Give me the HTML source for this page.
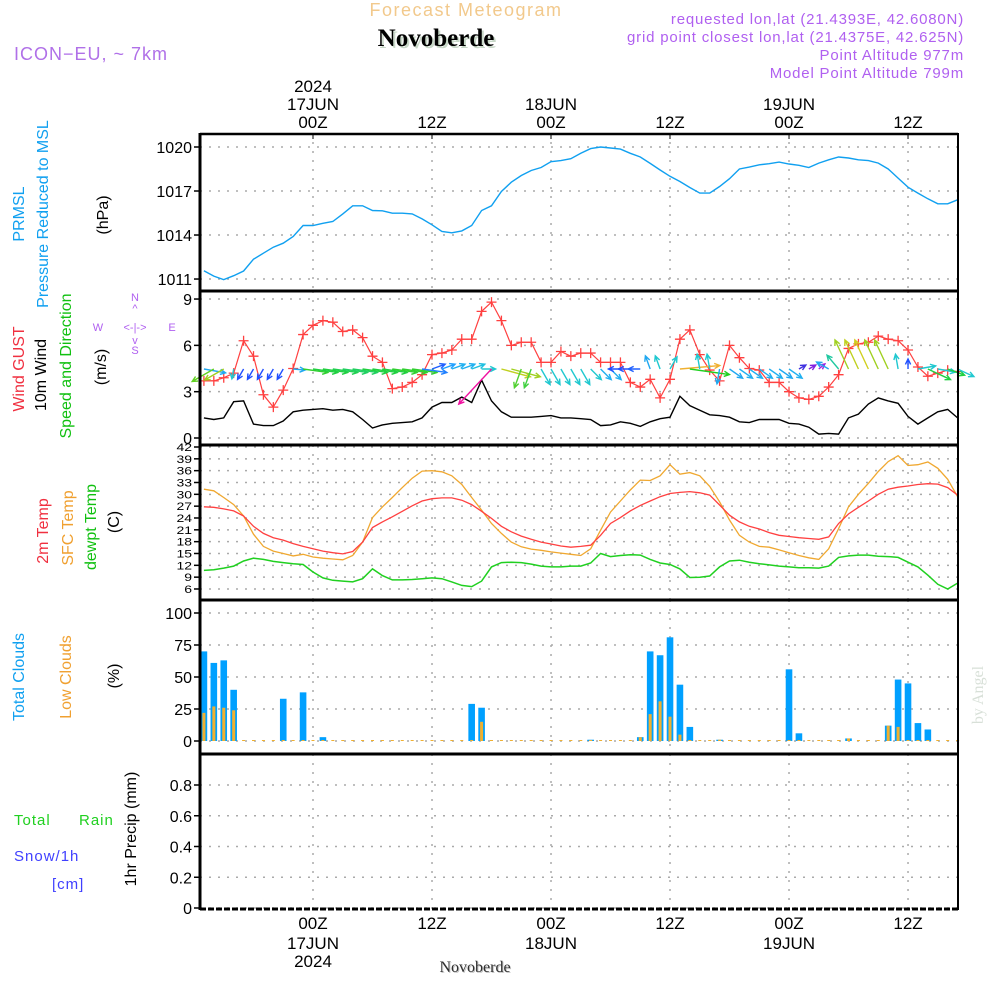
<!DOCTYPE html>
<html><head><meta charset="utf-8"><style>
html,body{margin:0;padding:0;background:#fff;}
svg{display:block;font-family:"Liberation Sans Narrow","Liberation Sans",sans-serif;}
</style></head><body>
<svg id="chart" width="1000" height="1000" viewBox="0 0 1000 1000" xmlns="http://www.w3.org/2000/svg">
<rect x="0" y="0" width="1000" height="1000" fill="#fff"/>
<g>
<text x="466" y="16" text-anchor="middle" font-size="18" fill="#f2c98c" letter-spacing="1.5" font-family="Liberation Sans, sans-serif">Forecast Meteogram</text>
<text x="438" y="48" text-anchor="middle" font-size="25" font-weight="bold" fill="#c8d8c8" font-family="Liberation Serif, serif">Novoberde</text>
<text x="436" y="46" text-anchor="middle" font-size="25" font-weight="bold" fill="#000" font-family="Liberation Serif, serif">Novoberde</text>
<text x="14" y="60" font-size="18" fill="#b070e8" letter-spacing="1" font-family="Liberation Sans, sans-serif">ICON−EU, ~ 7km</text>
<g font-size="15" fill="#b060f0" text-anchor="end" letter-spacing="0.8" font-family="Liberation Sans, sans-serif">
<text x="964" y="24">requested lon,lat (21.4393E, 42.6080N)</text>
<text x="964" y="42">grid point closest lon,lat (21.4375E, 42.625N)</text>
<text x="964" y="60">Point Altitude 977m</text>
<text x="964" y="78">Model Point Altitude 799m</text>
</g>
</g>
<g id="labels" font-size="16">
<text transform="translate(24,214) rotate(-90)" text-anchor="middle" fill="#10a0f0">PRMSL</text>
<text transform="translate(48,214) rotate(-90)" text-anchor="middle" fill="#10a0f0">Pressure Reduced to MSL</text>
<text transform="translate(108,215) rotate(-90)" text-anchor="middle" fill="#000">(hPa)</text>
<text transform="translate(24,369) rotate(-90)" text-anchor="middle" fill="#f03040">Wind GUST</text>
<text transform="translate(46,375) rotate(-90)" text-anchor="middle" fill="#000">10m Wind</text>
<text transform="translate(71,366) rotate(-90)" text-anchor="middle" fill="#10c010">Speed and Direction</text>
<text transform="translate(106,367) rotate(-90)" text-anchor="middle" fill="#000">(m/s)</text>
<g fill="#b060f0" font-size="11">
<text x="135" y="301" text-anchor="middle">N</text>
<text x="135" y="312" text-anchor="middle">^</text>
<text x="135" y="331" text-anchor="middle">&lt;-|-&gt;</text>
<text x="135" y="344" text-anchor="middle">v</text>
<text x="135" y="354" text-anchor="middle">S</text>
<text x="98" y="331" text-anchor="middle">W</text>
<text x="172" y="331" text-anchor="middle">E</text>
</g>
<text transform="translate(48,531) rotate(-90)" text-anchor="middle" fill="#f03040">2m Temp</text>
<text transform="translate(73,528) rotate(-90)" text-anchor="middle" fill="#f0a030">SFC Temp</text>
<text transform="translate(96,527) rotate(-90)" text-anchor="middle" fill="#10c010">dewpt Temp</text>
<text transform="translate(119,522) rotate(-90)" text-anchor="middle" fill="#000">(C)</text>
<text transform="translate(24,677) rotate(-90)" text-anchor="middle" fill="#10a0f0">Total Clouds</text>
<text transform="translate(71,677) rotate(-90)" text-anchor="middle" fill="#f0a030">Low Clouds</text>
<text transform="translate(119,676) rotate(-90)" text-anchor="middle" fill="#000">(%)</text>
<text transform="translate(136,829) rotate(-90)" text-anchor="middle" fill="#000">1hr Precip (mm)</text>
<g font-family="Liberation Sans, sans-serif" font-size="15" letter-spacing="1">
<text x="14" y="825" fill="#20d020">Total</text>
<text x="79" y="825" fill="#20d020">Rain</text>
<text x="14" y="861" fill="#4040ff">Snow/1h</text>
<text x="52" y="889" fill="#4040ff">[cm]</text>
</g>
<text transform="translate(983,695) rotate(-90)" text-anchor="middle" fill="#d8e0d8" font-size="16" font-family="Liberation Serif, serif">by Angel</text>
</g>
<g id="grid"></g>
<g id="marks"></g>
<g id="frame"></g>
<g id="axes" font-size="16"></g>
<text x="476" y="973" text-anchor="middle" font-size="16" fill="#c0c0c0" font-family="Liberation Serif, serif">Novoberde</text>
<text x="475" y="972" text-anchor="middle" font-size="16" fill="#303030" font-family="Liberation Serif, serif">Novoberde</text>
</svg>
<script>
// hours from 00Z 17JUN, hourly from -11 to 65
const hourStart = -11;
const pressure = [1011.57,1011.2,1010.96,1011.23,1011.55,1012.35,1012.76,1013.17,1013.44,1013.9,1014.65,1014.65,1014.8,1014.92,1015.44,1015.99,1015.99,1015.67,1015.65,1015.49,1015.49,1015.44,1015.1,1014.7,1014.24,1014.15,1014.28,1014.65,1015.67,1015.99,1016.97,1017.6,1018.06,1018.4,1018.6,1019.0,1019.07,1019.2,1019.57,1019.89,1020.0,1019.93,1019.86,1019.57,1019.32,1018.88,1018.43,1018.0,1017.65,1017.24,1016.86,1016.86,1017.31,1017.84,1018.5,1018.63,1018.79,1018.86,1018.97,1018.84,1018.75,1018.6,1018.9,1019.13,1019.32,1019.25,1019.13,1019.07,1018.9,1018.5,1017.88,1017.26,1016.86,1016.47,1016.13,1016.13,1016.4];
const gust = [3.7,3.7,3.9,4.2,6.3,5.3,2.8,2.0,3.1,4.5,6.7,7.3,7.6,7.5,6.9,7.0,6.5,5.3,4.9,3.2,3.3,3.6,4.1,5.4,5.5,5.7,6.4,6.4,8.2,8.8,7.6,6.0,6.2,6.2,4.9,4.9,5.6,5.3,5.5,5.5,4.9,4.9,4.9,3.6,3.3,3.8,2.6,3.8,6.4,7.0,5.4,4.4,3.7,6.0,5.2,4.5,4.4,3.6,3.6,3.0,2.6,2.5,2.7,3.3,4.1,5.8,6.1,6.2,6.6,6.4,6.3,5.7,4.6,4.0,4.2,4.4,4.3];
const wind10m = [1.3,1.2,1.3,2.35,2.4,0.9,0.8,0.8,1.1,1.7,1.8,1.85,1.9,1.8,1.85,1.7,1.2,0.65,0.85,0.95,1.0,1.05,1.3,2.0,2.3,2.3,2.65,2.3,3.75,2.4,1.7,1.35,1.35,1.35,1.4,1.45,1.3,1.3,1.25,1.2,0.8,0.85,1.05,0.95,0.75,1.05,1.25,1.35,2.7,2.1,1.8,1.5,1.45,1.35,1.05,1.0,1.2,1.2,1.2,0.95,0.9,0.7,0.25,0.3,0.25,1.3,1.55,2.2,2.6,2.4,2.25,1.4,0.9,1.3,1.7,1.85,1.3];
const windAngle = [10,150,150,100,120,120,120,120,120,5,8,8,8,8,8,8,8,8,8,8,8,8,8,-20,-20,-20,-20,-20,0,133,15,15,110,110,60,60,60,60,60,45,45,45,180,180,180,-110,-110,-60,-5,8,-100,-100,100,35,35,35,35,35,35,35,-30,-30,-40,-150,-130,-115,-115,-115,-115,-115,-100,-90,-10,25,10,20,25];
const windLen = [22,25,22,10,12,12,12,12,12,12,25,25,25,25,25,25,25,25,25,25,25,25,25,14,14,14,14,14,14,48,30,30,20,20,18,18,18,18,18,15,15,15,12,12,12,14,14,14,40,40,15,15,15,16,16,16,16,16,16,16,8,8,8,14,18,32,32,32,32,32,15,10,18,25,18,18,18];
const windColor = ["#20a8f0","#60d020","#a0d020","#20c8d0","#2050ff","#2050ff","#2050ff","#2050ff","#2050ff","#20a8f0","#30d030","#20d040","#20d040","#20d050","#20d060","#20d060","#20d040","#20d040","#20d040","#30d030","#30d030","#30d030","#2080ff","#2060ff","#20a0ff","#20b0f0","#20b0f0","#20c0e0","#20c8d0","#f010a0","#c0d020","#a0d020","#50d030","#40d040","#20c8d0","#20c8d0","#20c8d0","#20c8d0","#20c8d0","#20c8d0","#20b0f0","#20b0f0","#2050ff","#2050ff","#2060ff","#20a8f0","#20c8d0","#20c8d0","#f0b030","#20d020","#20c8d0","#20c8d0","#20a8f0","#20a8f0","#20b0f0","#20b0f0","#20b0f0","#20b0f0","#20a8f0","#20b0f0","#4030e0","#8020e0","#a020e0","#20a8f0","#20c8a0","#a0d020","#c0d020","#d0d020","#a0d020","#a0d020","#20c8d0","#2050ff","#20c8d0","#20d040","#20c8d0","#20d040","#20c8d0"];
const temp2m = [26.85,26.7,26.3,25.8,24.5,21.9,20.1,19.0,18.4,17.5,16.8,16.2,15.6,15.2,14.9,15.5,17.9,21.6,23.0,24.3,25.7,27.1,28.3,28.9,29.1,29.1,28.5,27.4,25.7,23.9,21.9,20.5,19.4,18.6,17.9,17.4,16.9,16.6,16.8,17.1,19.6,22.6,24.1,25.8,27.2,28.3,29.4,30.2,30.5,30.7,30.4,29.8,27.3,24.7,23.0,21.9,21.2,20.3,19.6,19.3,19.0,18.8,18.6,19.2,22.6,25.0,26.7,28.3,30.0,31.3,31.8,32.1,32.5,32.7,32.6,31.7,29.8];
const sfcTemp = [31.3,30.9,29.2,27.4,24.5,19.9,16.8,15.6,15.0,14.4,14.8,14.1,13.8,13.6,13.4,14.5,17.9,24.1,26.8,29.2,31.7,34.1,35.9,36.0,35.7,34.7,32.5,29.2,26.0,22.6,20.1,17.9,16.7,16.1,15.8,15.4,15.1,14.8,14.5,16.2,20.9,25.5,28.3,31.1,33.6,33.5,34.7,37.5,35.1,35.5,34.7,32.0,28.1,23.5,19.6,17.9,16.8,16.6,15.9,15.2,14.5,13.9,13.5,16.2,21.3,26.8,30.0,32.8,35.8,38.3,39.8,37.3,37.5,38.2,36.6,33.8,29.4];
const dewpt = [10.7,10.9,11.3,11.8,13.1,13.8,13.5,13.0,12.7,12.4,12.2,10.3,8.8,8.2,8.0,7.8,8.6,11.1,9.4,8.3,8.3,8.4,8.6,8.8,8.6,7.8,6.9,6.6,8.0,11.6,12.7,12.8,12.7,12.3,11.8,11.6,11.6,11.8,11.8,12.6,15.0,14.2,14.5,14.7,14.6,13.5,12.6,12.2,11.1,8.9,9.0,9.3,11.6,13.1,13.3,12.8,12.4,12.1,11.8,11.6,11.4,11.4,11.3,11.8,14.0,14.4,14.6,14.6,14.3,14.2,14.0,12.8,11.6,9.5,7.2,6.0,7.5];
const totalClouds = [70,61,63,40,0,0,0,0,33,0,38,0,3,0,0,0,0,0,0,0,0,0,0,0,0,0,0,29,26,0,0,0,0,0,0,0,0,0,0,1,0,0,0,0,3,70,67,81,44,11,0,0,1,0,0,0,0,0,0,56,6,0,0,0,0,2,0,0,0,12,48,45,14,9,0,0,0];
const lowClouds = [22,27,26,24,0,0,0,0,0,0,0,0,0,0,0,0,0,0,0,0,0,0,0,0,0,0,0,0,15,0,0,0,0,0,0,0,0,0,0,0,0,0,0,0,3,21,31,19,5,0,0,0,1,0,0,0,0,0,0,0,0,0,0,0,0,2,0,0,0,12,11,0,0,0,0,0,0];
const precip = [];
const pTicks = [1011,1014,1017,1020];
const wTicks = [0,3,6,9];
const tTicks = [6,9,12,15,18,21,24,27,30,33,36,39,42];
const cTicks = [0,25,50,75,100];
const rTicks = [0,0.2,0.4,0.6,0.8];
const rTickLabels = ["0","0.2","0.4","0.6","0.8"];
const timeHours = [0,12,24,36,48,60];
const timeLabels = ["00Z","12Z","00Z","12Z","00Z","12Z"];
const dayLabels = ["17JUN","","18JUN","","19JUN",""];

const NS="http://www.w3.org/2000/svg";
const X0=200,X1=958;
const xOf=h=>313+h*9.917;
const yP=p=>147+(1020-p)*14.67;
const yW=v=>438-v*15.44;
const yT=t=>447+(42-t)*3.944;
const yC=c=>741-c*1.28;
const yR=r=>908-r*153.75;
function mk(tag,attrs,parent){const e=document.createElementNS(NS,tag);for(const k in attrs)e.setAttribute(k,attrs[k]);parent.appendChild(e);return e;}
const gridG=document.getElementById('grid'),marksG=document.getElementById('marks'),frameG=document.getElementById('frame'),axesG=document.getElementById('axes');
const panels=[{top:133,bot:291,ticks:pTicks,lab:pTicks.map(String),f:yP,name:'pressure'},
{top:291,bot:445,ticks:wTicks,lab:wTicks.map(String),f:yW,name:'wind'},
{top:445,bot:600,ticks:tTicks,lab:tTicks.map(String),f:yT,name:'temp'},
{top:600,bot:754,ticks:cTicks,lab:cTicks.map(String),f:yC,name:'cloud'},
{top:754,bot:909,ticks:rTicks,lab:rTickLabels,f:yR,name:'precip'}];
panels.forEach(p=>{
  p.ticks.forEach((t,i)=>{
    const y=p.f(t);
    const g=mk('line',{x1:X0,x2:X1,y1:y,y2:y,stroke:'#aaa','stroke-width':1.5,'stroke-dasharray':'2 7'},gridG);
    
    
    const tk=mk('line',{x1:194,x2:X0,y1:y,y2:y,stroke:'#000','stroke-width':1.5},axesG);
    
    
    const fs=p.name==='temp'?14:16;
    const tx=mk('text',{x:192,y:y+(p.name==='temp'?5:6),'text-anchor':'end','font-size':fs,fill:'#000'},axesG);
    if(p.name==='temp'){tx.setAttribute('transform',`translate(0,${y*0.2}) scale(1,0.8)`);}
    tx.textContent=p.lab[i];
    
    
  });
  timeHours.forEach(h=>{
    const v=mk('line',{x1:xOf(h),x2:xOf(h),y1:p.top,y2:p.bot,stroke:'#aaa','stroke-width':1.5,'stroke-dasharray':'2 7'},gridG);
    
    
  });
  const sep=mk('line',{x1:X0,x2:X1,y1:p.bot,y2:p.bot,stroke:'#000','stroke-width':3,'stroke-dasharray':p.name==='precip'?'6 2':'none'},frameG);
  
  
});
const topBorder=mk('line',{x1:X0,x2:X1,y1:134,y2:134,stroke:'#000','stroke-width':2.5},frameG);


const leftBorder=mk('line',{x1:X0,x2:X0,y1:133,y2:910,stroke:'#000','stroke-width':3},frameG);


const rightBorder=mk('line',{x1:X1,x2:X1,y1:133,y2:910,stroke:'#000','stroke-width':2},frameG);


timeHours.forEach((h,i)=>{
  const x=xOf(h);
  const t=mk('text',{x:x,y:128,'text-anchor':'middle','font-size':17},axesG);t.textContent=timeLabels[i];
  
  
  const b=mk('text',{x:x,y:929,'text-anchor':'middle','font-size':17},axesG);b.textContent=timeLabels[i];
  
  
  if(dayLabels[i]){
    const d=mk('text',{x:x,y:110,'text-anchor':'middle','font-size':17},axesG);d.textContent=dayLabels[i];
    
    
    const d2=mk('text',{x:x,y:949,'text-anchor':'middle','font-size':17},axesG);d2.textContent=dayLabels[i];
    
    
  }
  if(i===0){
    const y1=mk('text',{x:x,y:92,'text-anchor':'middle','font-size':17},axesG);y1.textContent='2024';
    
    
    const y2=mk('text',{x:x,y:967,'text-anchor':'middle','font-size':17},axesG);y2.textContent='2024';
    
    
  }
  const tt=mk('line',{x1:x,x2:x,y1:133,y2:139,stroke:'#000','stroke-width':1},axesG);
  
  
});
function drawLine(arr,f,color,name,w){
  const pts=arr.map((v,i)=>xOf(hourStart+i).toFixed(1)+','+f(v).toFixed(1)).join(' ');
  const l=mk('polyline',{points:pts,fill:'none',stroke:color,'stroke-width':w||1.3},marksG);
  
  
  return l;
}
const cg=mk('g',{},marksG);


totalClouds.forEach((v,i)=>{
  const x=xOf(hourStart+i);
  if(v>0){
    const r=mk('rect',{x:x-3.3,y:yC(v),width:6.6,height:yC(0)-yC(v),fill:'#00a0ff'},cg);
    
    
  }
  const lv=lowClouds[i];
  const r2=mk('rect',{x:x-1.5,y:yC(lv)-(lv>0?0:1),width:3,height:Math.max(1,yC(0)-yC(lv)),fill:'#f0b030'},cg);
  
  
});
drawLine(pressure,yP,'#10a0f0','pressure-line',1.4);
drawLine(sfcTemp,yT,'#f0a830','sfc-temp-line',1.3);
drawLine(temp2m,yT,'#ff4040','temp2m-line',1.3);
drawLine(dewpt,yT,'#20d020','dewpt-line',1.5);
drawLine(wind10m,yW,'#000','wind10m-line',1.4);
drawLine(gust,yW,'#ff4040','gust-line',1.2);
gust.forEach((v,i)=>{
  const x=xOf(hourStart+i),y=yW(v);
  const m=mk('path',{d:`M${x-5},${y}H${x+5}M${x},${y-5}V${y+5}`,stroke:'#ff4040','stroke-width':1.3},marksG);
  
  
});
windAngle.forEach((a,i)=>{
  const x=xOf(hourStart+i),y=369;
  const L=windLen[i],r=a*Math.PI/180;
  const x2=x+L*Math.cos(r),y2=y+L*Math.sin(r);
  const h1=r+Math.PI-0.45,h2=r+Math.PI+0.45;
  const d=`M${x},${y}L${x2},${y2}M${x2+6*Math.cos(h1)},${y2+6*Math.sin(h1)}L${x2},${y2}L${x2+6*Math.cos(h2)},${y2+6*Math.sin(h2)}`;
  const p=mk('path',{d:d,fill:'none',stroke:windColor[i],'stroke-width':1.4},marksG);
  
  
});
</script>
</body></html>
